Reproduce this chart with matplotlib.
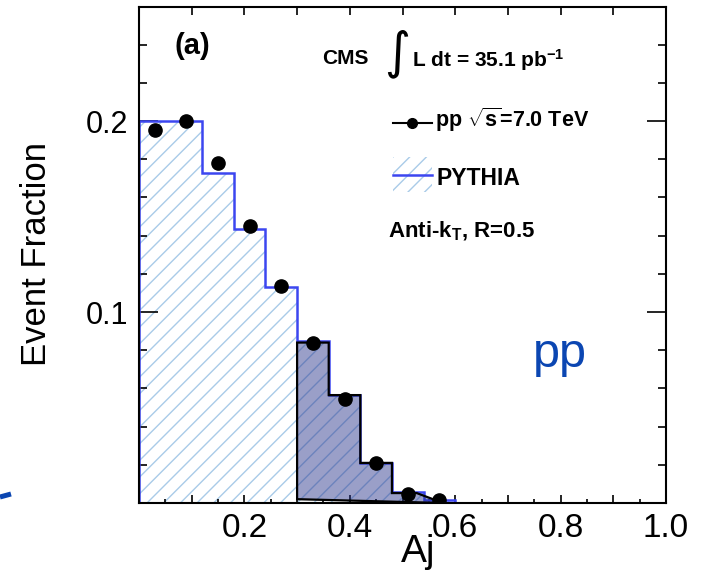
import numpy as np
import matplotlib
matplotlib.use('Agg')
import matplotlib.pyplot as plt
from matplotlib.lines import Line2D
from matplotlib.patches import Rectangle, Polygon
from matplotlib.ticker import FixedLocator, MultipleLocator

plt.rcParams['font.family'] = ['Liberation Sans', 'DejaVu Sans']
plt.rcParams['mathtext.fontset'] = 'custom'
plt.rcParams['mathtext.rm'] = 'Liberation Sans'
plt.rcParams['mathtext.bf'] = 'Liberation Sans:bold'
plt.rcParams['mathtext.it'] = 'Liberation Sans:italic'
plt.rcParams['hatch.linewidth'] = 1.0

# Aj binning and event fractions
bin_edges = [0.0, 0.06, 0.12, 0.18, 0.24, 0.30, 0.36, 0.42, 0.48, 0.54, 0.60]
pythia_frac = [0.200, 0.200, 0.173, 0.1435, 0.113, 0.0848, 0.0565, 0.021, 0.0055, 0.0015]
data_frac = [0.1953, 0.200, 0.178, 0.145, 0.1136, 0.0838, 0.0545, 0.021, 0.0047, 0.0018]

# outline of the shaded Aj > 0.3 region
shade_x = [0.30, 0.30, 0.36, 0.36, 0.42, 0.42, 0.48, 0.48, 0.527, 0.577]
shade_y = [0.002, 0.084, 0.084, 0.0565, 0.0565, 0.021, 0.021, 0.0052, 0.0052, 0.0]

xtick_pos = [0.1, 0.2, 0.3, 0.4, 0.5, 0.6, 0.7, 0.8, 0.9, 1.0]
xtick_labels = ['', '0.2', '', '0.4', '', '0.6', '', '0.8', '', '1.0']
ytick_pos = [0.1, 0.2]
ytick_labels = ['0.1', '0.2']

W, H = 701, 582
HATCH = '#A9CBE8'
PYBLUE = '#3C46F0'
NOTE = '#0B46B2'


def fpx(x, y):
    # pixel position -> figure fraction
    return x / W, 1 - y / H


fig = plt.figure(figsize=(W / 100, H / 100), dpi=100)
ax = fig.add_axes([139 / W, 1 - 503 / H, (666 - 139) / W, (503 - 7) / H])
ax.set_xlim(0, 1.0)
ax.set_ylim(0, 0.2597)

centers = 0.5 * (np.array(bin_edges[:-1]) + np.array(bin_edges[1:]))

# PYTHIA: hatched histogram with blue outline
ax.stairs(pythia_frac, bin_edges, fill=True, facecolor='none',
          edgecolor=HATCH, hatch='//', linewidth=0, zorder=1)
ax.stairs(pythia_frac, bin_edges, color=PYBLUE, linewidth=1.8, zorder=2)

# shaded unbalanced region
ax.add_patch(Polygon(np.column_stack([shade_x, shade_y]), closed=True,
                     facecolor=(0.16, 0.20, 0.55, 0.47), edgecolor='black',
                     linewidth=1.6, zorder=3))

# data points
ax.plot(centers, data_frac, 'o', color='black', markersize=9.5, zorder=5)

for s in ax.spines.values():
    s.set_linewidth(1.5)

ax.xaxis.set_major_locator(FixedLocator(xtick_pos))
ax.set_xticklabels(xtick_labels, fontsize=24)
ax.xaxis.set_minor_locator(MultipleLocator(0.05))
ax.yaxis.set_major_locator(FixedLocator(ytick_pos))
ax.set_yticklabels(ytick_labels, fontsize=22)
ax.yaxis.set_minor_locator(MultipleLocator(0.02))
ax.tick_params(which='both', direction='in', top=True, right=True, width=1.2)
ax.tick_params(axis='x', which='major', length=6, pad=7)
ax.tick_params(axis='x', which='minor', length=3, top=False)
ax.tick_params(axis='y', which='major', length=14, pad=8)
ax.tick_params(axis='y', which='minor', length=6)

# axis titles and notes
fig.text(*fpx(37, 254.5), 'Event Fraction', rotation=90,
         ha='center', va='center', fontsize=25)
fig.text(*fpx(418, 534), 'Aj', ha='center', va='top', fontsize=28)
fig.text(*fpx(560, 367), 'pp', ha='center', va='baseline',
         fontsize=35, color=NOTE)
fig.add_artist(Line2D([0 / W, 11 / W], [1 - 497 / H, 1 - 494 / H],
                      color=NOTE, linewidth=3.6, solid_capstyle='butt'))

# header
fig.text(*fpx(192, 46), '(a)', ha='center', va='center',
         fontsize=21, fontweight='bold')
fig.text(*fpx(345, 58.5), 'CMS', ha='center', va='center',
         fontsize=15, fontweight='bold')
fig.text(*fpx(410, 54), '\u222b', ha='right', va='center',
         fontsize=36, family='DejaVu Sans')
fig.text(*fpx(412, 67), r'L dt = 35.1 pb$^{\mathbf{-1}}$', ha='left',
         va='baseline', fontsize=15, fontweight='bold')

# legend
fig.add_artist(Line2D([393 / W, 432 / W], [1 - 123 / H] * 2,
                      color='black', linewidth=1.5))
fig.add_artist(Line2D([412 / W], [1 - 123 / H], marker='o',
                      color='black', markersize=7))
fig.text(*fpx(435, 127), r'pp $\mathbf{\sqrt{s}}$=7.0 TeV', ha='left',
         va='baseline', fontsize=15.5, fontweight='bold')

fig.add_artist(Rectangle(fpx(393, 192), 39 / W, 35 / H,
                         transform=fig.transFigure, facecolor='none',
                         edgecolor=HATCH, hatch='//', linewidth=0))
fig.add_artist(Line2D([393 / W, 432 / W], [1 - 175 / H] * 2,
                      color=PYBLUE, linewidth=1.8))
fig.text(*fpx(437, 185), 'PYTHIA', ha='left', va='baseline',
         fontsize=16.5, fontweight='bold')

fig.text(*fpx(388, 237), r'Anti-k$_{\mathbf{T}}$, R=0.5', ha='left',
         va='baseline', fontsize=16, fontweight='bold')

fig.savefig('out.png', dpi=100)
